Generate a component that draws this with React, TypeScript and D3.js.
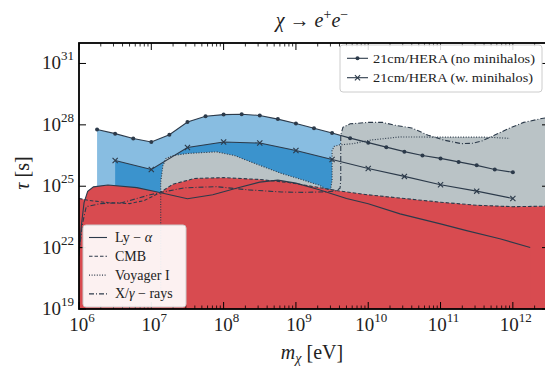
import React from "react";
import * as d3 from "d3";

const W = 545;
const H = 367;

// All values are log10 exponents (mass in eV, lifetime in s)
const heraNoMhLogM = [6.25, 6.5, 6.75, 7.0, 7.25, 7.5, 7.75, 8.0, 8.25, 8.5, 8.75, 9.0, 9.25, 9.5, 9.75, 10.0, 10.25, 10.5, 10.75, 11.0, 11.25, 11.5, 11.75, 12.0];
const heraNoMhLogTau = [27.77, 27.57, 27.33, 27.16, 27.52, 28.14, 28.42, 28.5, 28.52, 28.46, 28.28, 28.07, 27.83, 27.6, 27.35, 27.13, 26.91, 26.69, 26.5, 26.36, 26.19, 26.02, 25.82, 25.68];

const heraMhLogM = [6.5, 7.0, 7.5, 8.0, 8.5, 9.0, 9.5, 10.0, 10.5, 11.0, 11.5, 12.0];
const heraMhLogTau = [26.26, 25.82, 26.89, 27.16, 27.11, 26.75, 26.31, 25.87, 25.48, 25.07, 24.76, 24.4];

const lyaLogM = [6.0, 6.03, 6.07, 6.12, 6.2, 6.4, 6.8, 7.1, 7.5, 7.85, 8.2, 8.5, 8.75, 9.0, 9.3, 9.7, 10.0, 10.44, 11.0, 11.36, 11.82, 12.24];
const lyaLogTau = [21.6, 23.0, 24.2, 24.75, 24.97, 25.06, 24.93, 24.71, 24.39, 24.58, 24.93, 25.2, 25.3, 25.15, 24.85, 24.4, 24.14, 23.65, 23.16, 22.83, 22.43, 22.01];

const cmbLogM = [6.0, 6.15, 6.4, 6.7, 6.9, 7.1, 7.3, 7.6, 8.0, 8.5, 8.9, 9.3, 9.6, 10.0, 10.5, 11.0, 11.5, 12.0, 12.5];
const cmbLogTau = [24.4, 24.3, 24.2, 24.15, 24.3, 24.65, 25.1, 25.38, 25.42, 25.33, 25.18, 24.95, 24.77, 24.58, 24.4, 24.22, 24.07, 24.0, 24.03];

const voyLogM = [7.13, 7.13, 7.16, 7.2, 7.3, 7.5, 7.9, 8.15, 8.5, 8.78, 9.1, 9.33, 9.42, 9.48, 9.5, 9.5, 9.53, 9.6, 9.79, 10.02, 10.44, 10.9, 11.3, 11.62, 11.96];
const voyLogTau = [19, 25.2, 26.0, 26.35, 26.5, 26.6, 26.68, 26.5, 26.02, 25.65, 25.3, 25.04, 24.85, 24.85, 25.3, 26.75, 26.95, 27.02, 27.08, 27.25, 27.41, 27.4, 27.4, 27.4, 27.34];

const xrayLogM = [6.0, 6.05, 6.1, 6.3, 6.6, 7.0, 7.45, 7.9, 8.35, 8.8, 9.1, 9.45, 9.56, 9.61, 9.62, 9.62, 9.65, 9.75, 10.0, 10.2, 10.37, 10.6, 10.83, 11.05, 11.29, 11.45, 11.57, 11.75, 11.94, 12.15, 12.4, 12.5];
const xrayLogTau = [21.8, 23.2, 24.0, 24.15, 24.2, 24.6, 24.92, 24.98, 24.82, 24.72, 24.7, 24.73, 24.78, 24.9, 25.3, 27.5, 27.88, 28.05, 28.12, 28.12, 27.98, 27.85, 27.49, 27.25, 27.08, 27.1, 27.21, 27.5, 27.82, 28.12, 28.31, 28.37];

const xTickExps = [6, 7, 8, 9, 10, 11, 12];
const yTickExps = [19, 22, 25, 28, 31];

const topLegend = ["21cm/HERA (no minihalos)", "21cm/HERA (w. minihalos)"];

const COL_LINE = "#2c3a4a";
const COL_RED = "#d84b50";
const COL_LBLUE = "#88bde1";
const COL_DBLUE = "#3b93cd";
const COL_GREY = "#bac3c6";
const FONT = "'Liberation Serif', 'DejaVu Serif', serif";

const L = 79, R = 549, T = 43, B = 309;

const x = d3.scaleLog().domain([1e6, Math.pow(10, 12.5)]).range([L, R]);
const y = d3.scaleLog().domain([1e19, 1e32]).range([B, T]);

type P = [number, number];
const pts = (lm: number[], lt: number[]): P[] =>
  lm.map((m, i) => [Math.pow(10, m), Math.pow(10, lt[i])] as P);

const line = d3.line<P>().x((d) => x(d[0])).y((d) => y(d[1]));
const area = d3
  .area<P>()
  .x((d) => x(d[0]))
  .y0(B)
  .y1((d) => y(d[1]));

const heraNo = pts(heraNoMhLogM, heraNoMhLogTau);
const heraMh = pts(heraMhLogM, heraMhLogTau);
const lya = pts(lyaLogM, lyaLogTau);
const cmb = pts(cmbLogM, cmbLogTau);
const voy = pts(voyLogM, voyLogTau);
const xray = pts(xrayLogM, xrayLogTau);

function XMarker({ cx, cy }: { cx: number; cy: number }) {
  const s = 2.6;
  return (
    <path
      d={`M${cx - s},${cy - s}L${cx + s},${cy + s}M${cx - s},${cy + s}L${cx + s},${cy - s}`}
      stroke={COL_LINE}
      strokeWidth={1.1}
    />
  );
}

export default function App() {
  const minorTicks: number[] = [];
  for (let e = 6; e <= 12; e++) {
    for (let k = 2; k <= 9; k++) {
      const v = k * Math.pow(10, e);
      if (v <= Math.pow(10, 12.5)) minorTicks.push(v);
    }
  }
  const clipId = "plotclip";
  return (
    <svg
      width={W}
      height={H}
      style={{ position: "absolute", left: 0, top: 0, background: "#fff" }}
      fontFamily={FONT}
    >
      <defs>
        <clipPath id={clipId}>
          <rect x={L} y={T} width={R - L} height={B - T} />
        </clipPath>
      </defs>
      <rect x={0} y={0} width={W} height={H} fill="#fff" />
      <g clipPath={`url(#${clipId})`}>
        <path d={area(heraNo) || ""} fill={COL_LBLUE} />
        <path d={area(heraMh) || ""} fill={COL_DBLUE} />
        <path d={area(voy) || ""} fill={COL_GREY} />
        <path d={area(xray) || ""} fill={COL_GREY} />
        <path d={area(cmb) || ""} fill={COL_RED} />
        <path d={area(lya) || ""} fill={COL_RED} />

        <path d={line(lya) || ""} fill="none" stroke={COL_LINE} strokeWidth={1.1} />
        <path d={line(cmb) || ""} fill="none" stroke={COL_LINE} strokeWidth={1.1} strokeDasharray="3.5,2" />
        <path d={line(voy) || ""} fill="none" stroke={COL_LINE} strokeWidth={1.1} strokeDasharray="1,1.6" />
        <path d={line(xray) || ""} fill="none" stroke={COL_LINE} strokeWidth={1.1} strokeDasharray="5,2,1,2" />

        <path d={line(heraNo) || ""} fill="none" stroke={COL_LINE} strokeWidth={1.1} />
        {heraNo.map((d, i) => (
          <circle key={i} cx={x(d[0])} cy={y(d[1])} r={2} fill={COL_LINE} />
        ))}
        <path d={line(heraMh) || ""} fill="none" stroke={COL_LINE} strokeWidth={1.1} />
        {heraMh.map((d, i) => (
          <XMarker key={i} cx={x(d[0])} cy={y(d[1])} />
        ))}
      </g>

      {/* ticks */}
      <g stroke="#000">
        {xTickExps.map((e) => {
          const px = x(Math.pow(10, e));
          return (
            <g key={e}>
              <line x1={px} x2={px} y1={B} y2={B - 7} strokeWidth={1} />
              <line x1={px} x2={px} y1={T} y2={T + 7} strokeWidth={1} />
            </g>
          );
        })}
        {minorTicks.map((v, i) => {
          const px = x(v);
          return (
            <g key={i}>
              <line x1={px} x2={px} y1={B} y2={B - 3.5} strokeWidth={0.8} />
              <line x1={px} x2={px} y1={T} y2={T + 3.5} strokeWidth={0.8} />
            </g>
          );
        })}
        {yTickExps.map((e) => {
          const py = y(Math.pow(10, e));
          return (
            <g key={e}>
              <line x1={L} x2={L + 7} y1={py} y2={py} strokeWidth={1} />
              <line x1={R} x2={R - 7} y1={py} y2={py} strokeWidth={1} />
            </g>
          );
        })}
      </g>

      {/* lower-left legend */}
      <g>
        <rect x={83} y={225} width={103} height={82} rx={3} fill="#fff" fillOpacity={0.92} stroke="#cccccc" strokeWidth={1} />
        {[
          { dash: "", label: "lya" },
          { dash: "3.5,2", label: "cmb" },
          { dash: "1,1.6", label: "voy" },
          { dash: "5,2,1,2", label: "xray" },
        ].map((it, i) => {
          const ly = 237.5 + i * 18.8;
          return (
            <line key={i} x1={89} x2={107} y1={ly} y2={ly} stroke={COL_LINE} strokeWidth={1.1} strokeDasharray={it.dash} />
          );
        })}
        <text x={115} y={242} fontSize={14} fill="#222">
          Ly <tspan>−</tspan> <tspan fontStyle="italic">α</tspan>
        </text>
        <text x={115} y={260.8} fontSize={14} fill="#222">CMB</text>
        <text x={115} y={279.6} fontSize={14} fill="#222">Voyager I</text>
        <text x={115} y={298.4} fontSize={14} fill="#222">
          X/<tspan fontStyle="italic">γ</tspan> − rays
        </text>
      </g>

      {/* top-right legend */}
      <g>
        <rect x={340} y={45} width={202} height={47} rx={3} fill="#fff" fillOpacity={0.85} stroke="#cccccc" strokeWidth={1} />
        <line x1={347} x2={368} y1={58.3} y2={58.3} stroke={COL_LINE} strokeWidth={1.1} />
        <circle cx={357.5} cy={58.3} r={2} fill={COL_LINE} />
        <line x1={347} x2={368} y1={77.7} y2={77.7} stroke={COL_LINE} strokeWidth={1.1} />
        <XMarker cx={357.5} cy={77.7} />
        <text x={373} y={62.8} fontSize={13.5} fill="#222" textLength={162} lengthAdjust="spacingAndGlyphs">
          {topLegend[0]}
        </text>
        <text x={373} y={82.2} fontSize={13.5} fill="#222" textLength={160} lengthAdjust="spacingAndGlyphs">
          {topLegend[1]}
        </text>
      </g>

      {/* spines */}
      <rect x={L} y={T} width={R - L} height={B - T} fill="none" stroke="#000" strokeWidth={1.8} />

      {/* tick labels */}
      {xTickExps.map((e) => (
        <text key={e} x={x(Math.pow(10, e)) + 3} y={331} fontSize={19} textAnchor="middle" fill="#222">
          10<tspan dy={-9} fontSize={13}>{e}</tspan>
        </text>
      ))}
      {yTickExps.map((e) => (
        <text key={e} x={74} y={y(Math.pow(10, e)) + 6} fontSize={19} textAnchor="end" fill="#222">
          10<tspan dy={-9} fontSize={13}>{e}</tspan>
        </text>
      ))}

      {/* title */}
      <text x={312} y={27} fontSize={20} textAnchor="middle" fill="#222">
        <tspan fontStyle="italic">χ</tspan>
        <tspan> → </tspan>
        <tspan fontStyle="italic">e</tspan>
        <tspan dy={-8} fontSize={14}>+</tspan>
        <tspan dy={8} fontStyle="italic">e</tspan>
        <tspan dy={-8} fontSize={14}>−</tspan>
      </text>

      {/* axis labels */}
      <text x={312} y={359} fontSize={20} textAnchor="middle" fill="#222">
        <tspan fontStyle="italic">m</tspan>
        <tspan dy={4} fontSize={14} fontStyle="italic">χ</tspan>
        <tspan dy={-4}> [eV]</tspan>
      </text>
      <text transform="translate(29,173) rotate(-90)" fontSize={20} textAnchor="middle" fill="#222">
        <tspan fontStyle="italic">τ</tspan> [s]
      </text>
    </svg>
  );
}
